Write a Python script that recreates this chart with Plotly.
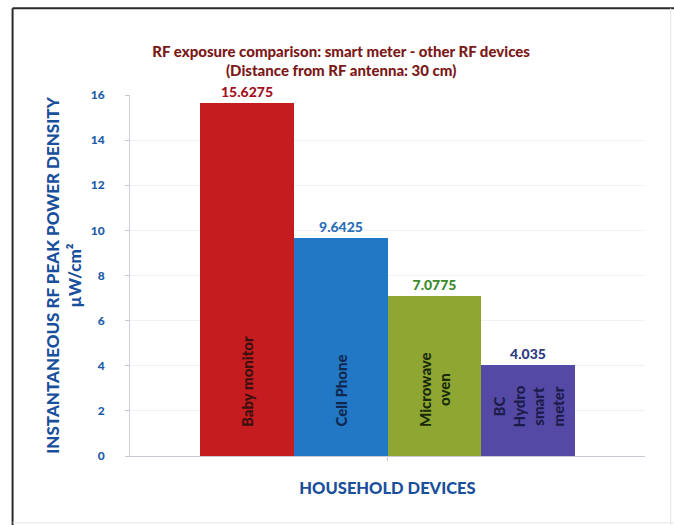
import plotly.graph_objects as go

# Household RF devices and their instantaneous peak power density (µW/cm²) at 30 cm
devices = ["Baby monitor", "Cell Phone", "Microwave<br>oven", "BC<br>Hydro<br>smart<br>meter"]
values = [15.6275, 9.6425, 7.0775, 4.035]
value_labels = ["15.6275", "9.6425", "7.0775", "4.035"]
positions = [1, 2, 3, 4]

bar_colors = ["#c51c1f", "#2378c6", "#8ea632", "#5549a6"]
label_colors = ["#a3121f", "#2a6fb8", "#3b8a2a", "#2e3a82"]
name_colors = ["#3a1010", "#10284f", "#1a2a0a", "#1c1c4a"]

y_ticks = [0, 2, 4, 6, 8, 10, 12, 14, 16]

FONT = "Lato"
HEAVY = 900

fig = go.Figure()
fig.add_trace(go.Bar(
    x=positions,
    y=values,
    width=1,
    marker=dict(color=bar_colors, line=dict(width=0)),
    text=value_labels,
    textposition="outside",
    cliponaxis=False,
    textfont=dict(family=FONT, size=14, color=label_colors, weight=HEAVY),
    hoverinfo="skip",
    showlegend=False,
))

# Device names written upright inside each bar, near its base
for xp, name, col in zip(positions, devices, name_colors):
    fig.add_annotation(
        x=xp, y=0, xref="x", yref="y",
        text=name, showarrow=False, textangle=-90,
        yanchor="bottom", xanchor="center", yshift=27,
        font=dict(family=FONT, size=15, color=col, weight=HEAVY),
        align="center",
    )

# Outer frame around the chart
frame = [
    (-0.228, 1.24, 1.06, 1.24, "#2a2a2a", 2),
    (-0.228, 1.24, -0.228, -0.2, "#2a2a2a", 2),
    (1.05, 1.24, 1.05, -0.2, "#e2e2e2", 1),
    (-0.228, -0.185, 1.06, -0.185, "#e6e6e6", 1),
]
for x0, y0, x1, y1, c, w in frame:
    fig.add_shape(type="line", xref="paper", yref="paper",
                  x0=x0, y0=y0, x1=x1, y1=y1, line=dict(color=c, width=w))

fig.update_layout(
    width=674, height=525,
    margin=dict(l=130, r=29, t=95, b=69),
    paper_bgcolor="white", plot_bgcolor="white",
    bargap=0,
    title=dict(
        text="RF exposure comparison: smart meter - other RF devices<br>(Distance from RF antenna: 30 cm)",
        x=0.41, xanchor="center", xref="paper",
        y=0.892, yanchor="middle",
        font=dict(family=FONT, size=15, color="#7b1818", weight=HEAVY),
    ),
    xaxis=dict(
        range=[-0.24, 5.24],
        tickvals=[2.5], ticktext=[""],
        ticks="outside", ticklen=4, tickcolor="#c8c8d4",
        showline=True, linecolor="#c8c8d8", linewidth=1,
        showgrid=False, zeroline=False,
        title=dict(text="HOUSEHOLD DEVICES", standoff=20,
                   font=dict(family=FONT, size=16.5, color="#1a4f9c", weight=HEAVY)),
    ),
    yaxis=dict(
        range=[0, 16],
        tickvals=y_ticks,
        ticks="outside", ticklen=4, tickcolor="#c8c8d4",
        ticklabelstandoff=18,
        tickfont=dict(family=FONT, size=12, color="#1e5ca8", weight=HEAVY),
        showline=True, linecolor="#d0d0da", linewidth=1,
        showgrid=True, gridcolor="#f1f1f5", gridwidth=1,
        zeroline=False,
        title=dict(text="INSTANTANEOUS RF PEAK POWER DENSITY<br>µW/cm²", standoff=4,
                   font=dict(family=FONT, size=17, color="#1a4f9c", weight=HEAVY)),
    ),
)

fig.write_html("out.html")
